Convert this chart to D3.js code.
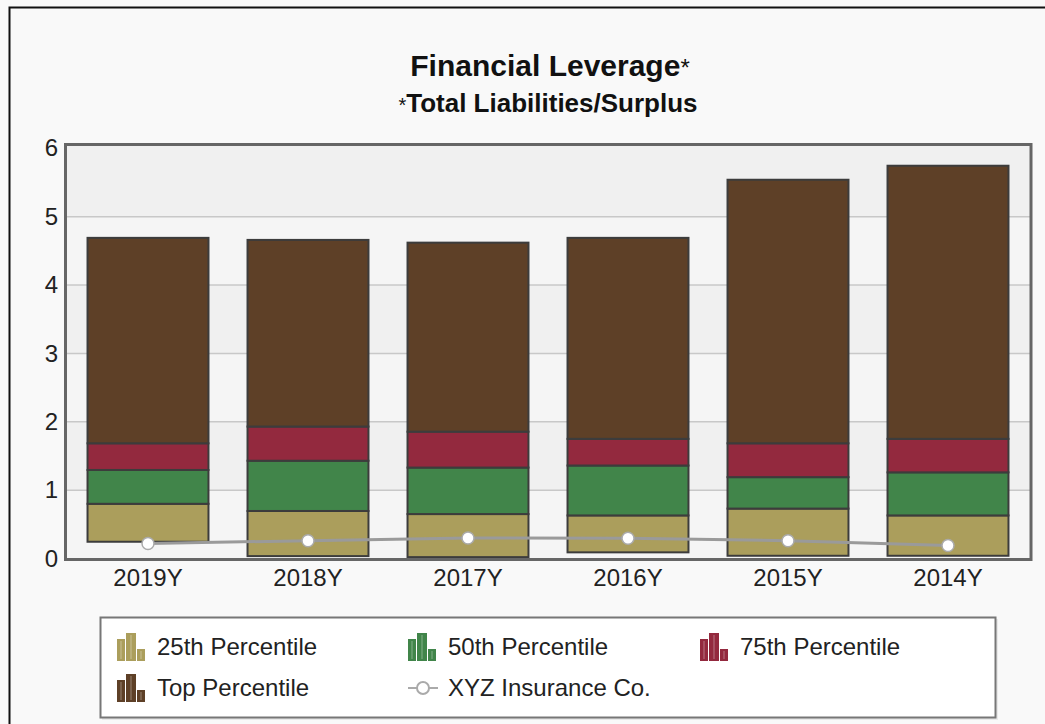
<!DOCTYPE html>
<html>
<head>
<meta charset="utf-8">
<script src="https://cdn.jsdelivr.net/npm/d3@7"></script>
<style>
  html, body { margin: 0; padding: 0; background: #f9f9f9; }
  svg { display: block; font-family: "Liberation Sans", Arial, sans-serif; }
</style>
</head>
<body>
<svg id="chart" width="1045" height="724"></svg>
<script>
// datos
const years = ["2019Y", "2018Y", "2017Y", "2016Y", "2015Y", "2014Y"];
const lowVals = [0.245, 0.035, 0.02, 0.09, 0.04, 0.04];
const p25Vals = [0.80, 0.695, 0.65, 0.63, 0.73, 0.63];
const p50Vals = [1.295, 1.43, 1.33, 1.36, 1.19, 1.26];
const p75Vals = [1.685, 1.93, 1.855, 1.75, 1.685, 1.75];
const topVals = [4.69, 4.66, 4.62, 4.69, 5.54, 5.745];
const companyVals = [0.22, 0.26, 0.30, 0.295, 0.26, 0.19];
const yTicks = [0, 1, 2, 3, 4, 5, 6];

const series = [
  { name: "25th Percentile", color: "#ab9e5c", from: lowVals, to: p25Vals },
  { name: "50th Percentile", color: "#41854a", from: p25Vals, to: p50Vals },
  { name: "75th Percentile", color: "#93293e", from: p50Vals, to: p75Vals },
  { name: "Top Percentile", color: "#5e4027", from: p75Vals, to: topVals }
];

const svg = d3.select("#chart");

// borde negro exterior
svg.append("path")
  .attr("d", "M9.5,724 L9.5,7.5 L1045,7.5")
  .attr("fill", "none")
  .attr("stroke", "#111")
  .attr("stroke-width", 2);

// titulos
const t1 = svg.append("text")
  .attr("x", 550).attr("y", 76)
  .attr("text-anchor", "middle")
  .attr("fill", "#111");
t1.append("tspan").attr("font-size", 30).attr("font-weight", "bold").text("Financial Leverage");
t1.append("tspan").attr("font-size", 24).text("*");

const t2 = svg.append("text")
  .attr("x", 548).attr("y", 112)
  .attr("text-anchor", "middle")
  .attr("fill", "#111");
t2.append("tspan").attr("font-size", 20).text("*");
t2.append("tspan").attr("font-size", 26).attr("font-weight", "bold").text("Total Liabilities/Surplus");

// escalas
const x = d3.scaleBand()
  .domain(years)
  .range([68, 1028])
  .paddingInner(0.244)
  .paddingOuter(0.122);

const y = d3.scaleLinear()
  .domain([0, 6])
  .range([558.5, 148.3]);

// fondo del area de trazado
const plotTop = 144.5, plotBottom = 559.5, plotLeft = 65.5, plotRight = 1031;
svg.append("rect")
  .attr("x", plotLeft).attr("y", plotTop)
  .attr("width", plotRight - plotLeft).attr("height", plotBottom - plotTop)
  .attr("fill", "#f0f0f0");

// bandas alternas
const bandEdges = [0, 1, 2, 3, 4, 5];
svg.append("g").selectAll("rect")
  .data(bandEdges.filter(d => d % 2 === 0))
  .enter().append("rect")
  .attr("x", plotLeft).attr("width", plotRight - plotLeft)
  .attr("y", d => y(d + 1)).attr("height", d => y(d) - y(d + 1))
  .attr("fill", "#f5f5f5");

// lineas de cuadricula
svg.append("g").selectAll("line")
  .data(yTicks.slice(1, -1))
  .enter().append("line")
  .attr("x1", plotLeft).attr("x2", plotRight)
  .attr("y1", d => y(d)).attr("y2", d => y(d))
  .attr("stroke", "#c8c8c8")
  .attr("stroke-width", 1.5);

// barras apiladas flotantes
series.forEach(s => {
  svg.append("g").selectAll("rect")
    .data(years)
    .enter().append("rect")
    .attr("x", d => x(d))
    .attr("width", x.bandwidth())
    .attr("y", (d, i) => y(s.to[i]))
    .attr("height", (d, i) => y(s.from[i]) - y(s.to[i]))
    .attr("fill", s.color)
    .attr("stroke", "#3c3c3c")
    .attr("stroke-width", 2);
});

// linea de la compania
const line = d3.line()
  .x((d, i) => x(years[i]) + x.bandwidth() / 2)
  .y(d => y(d));

svg.append("path")
  .datum(companyVals)
  .attr("d", line)
  .attr("fill", "none")
  .attr("stroke", "#9a9a9a")
  .attr("stroke-width", 3);

svg.append("g").selectAll("circle")
  .data(companyVals)
  .enter().append("circle")
  .attr("cx", (d, i) => x(years[i]) + x.bandwidth() / 2)
  .attr("cy", d => y(d))
  .attr("r", 6)
  .attr("fill", "#fff")
  .attr("stroke", "#aaa")
  .attr("stroke-width", 1.5);

// marco
svg.append("rect")
  .attr("x", plotLeft).attr("y", plotTop)
  .attr("width", plotRight - plotLeft).attr("height", plotBottom - plotTop)
  .attr("fill", "none")
  .attr("stroke", "#666")
  .attr("stroke-width", 3);

// ejes
const yAxis = d3.axisLeft(y).tickValues(yTicks).tickFormat(d3.format("d")).tickSize(0).tickPadding(0);
const gy = svg.append("g").attr("transform", "translate(58,0)").call(yAxis);
gy.select(".domain").remove();
gy.selectAll("text").attr("font-size", 24).attr("fill", "#222")
  .attr("font-family", "Liberation Sans, Arial, sans-serif");

const xAxis = d3.axisBottom(x).tickSize(0).tickPadding(0);
const gx = svg.append("g").attr("transform", "translate(0,569)").call(xAxis);
gx.select(".domain").remove();
gx.selectAll("text").attr("font-size", 24).attr("fill", "#222")
  .attr("font-family", "Liberation Sans, Arial, sans-serif");

// leyenda
const legend = svg.append("g");
legend.append("rect")
  .attr("x", 102).attr("y", 619)
  .attr("width", 896).attr("height", 101)
  .attr("fill", "#ddd").attr("opacity", 0.6);
legend.append("rect")
  .attr("x", 100.5).attr("y", 617.5)
  .attr("width", 895).attr("height", 100)
  .attr("fill", "#fff")
  .attr("stroke", "#777")
  .attr("stroke-width", 2);

const legendItems = [
  { name: series[0].name, color: series[0].color, x: 117, y: 647, type: "bar" },
  { name: series[1].name, color: series[1].color, x: 408, y: 647, type: "bar" },
  { name: series[2].name, color: series[2].color, x: 700, y: 647, type: "bar" },
  { name: series[3].name, color: series[3].color, x: 117, y: 688, type: "bar" },
  { name: "XYZ Insurance Co.", color: "#aaa", x: 408, y: 688, type: "line" }
];

legendItems.forEach(it => {
  const g = legend.append("g").attr("transform", `translate(${it.x},${it.y})`);
  if (it.type === "bar") {
    const iconBars = [[0, 8, 22], [9, 10, 28], [20, 8, 12]];
    iconBars.forEach(b => {
      g.append("rect")
        .attr("x", b[0]).attr("y", 14 - b[2])
        .attr("width", b[1]).attr("height", b[2])
        .attr("fill", it.color);
      g.append("rect")
        .attr("x", b[0] + b[1] / 2 - 1).attr("y", 14 - b[2] + 2)
        .attr("width", 2).attr("height", b[2] - 4)
        .attr("fill", "#fff").attr("opacity", 0.18);
    });
  } else {
    g.append("line").attr("x1", 0).attr("x2", 30).attr("y1", 0).attr("y2", 0)
      .attr("stroke", "#aaa").attr("stroke-width", 2);
    g.append("circle").attr("cx", 15).attr("cy", 0).attr("r", 6)
      .attr("fill", "#fff").attr("stroke", "#aaa").attr("stroke-width", 2);
  }
  g.append("text")
    .attr("x", 40).attr("y", 0).attr("dy", "0.35em")
    .attr("font-size", 24).attr("fill", "#222")
    .text(it.name);
});
</script>
</body>
</html>
